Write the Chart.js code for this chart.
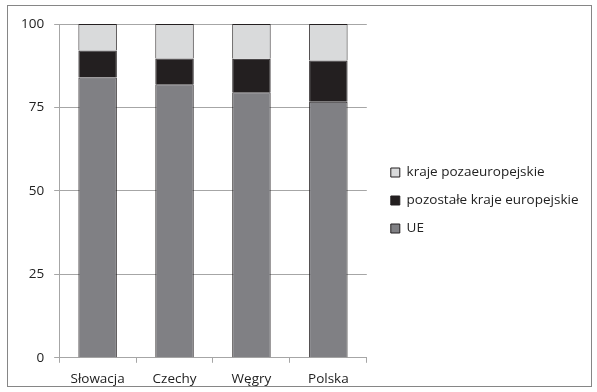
<!DOCTYPE html>
<html>
<head>
<meta charset="utf-8">
<script src="https://cdn.jsdelivr.net/npm/chart.js@4/dist/chart.umd.min.js"></script>
<style>
  html, body { margin: 0; padding: 0; background: #fff; }
  #frame { position: absolute; left: 7px; top: 5px; width: 583px; height: 380px; border: 1px solid #868686; }
  #frame canvas { display: block; }
</style>
</head>
<body>
<div id="frame"><canvas id="chart"></canvas></div>
<script>
// === Data ===
const countries = ['Słowacja', 'Czechy', 'Węgry', 'Polska'];
const ue = [84, 82, 79.6, 76.7];
const otherEurope = [8.1, 7.7, 10, 12.4];
const nonEurope = [7.9, 10.3, 10.4, 10.9];
const yTicks = [0, 25, 50, 75, 100];

const gridGray = '#a6a6a6';
const font = { family: '"Open Sans", sans-serif', size: 13.5 };

// nudge the legend right/up so there is a gap after the plot
const legendShift = {
  id: 'legendShift',
  afterLayout(chart) {
    const lg = chart.legend;
    lg.left += 9.5; lg.right += 9.5;
    lg.top -= 3; lg.bottom -= 3;
  }
};

new Chart(document.getElementById('chart'), {
  type: 'bar',
  data: {
    labels: countries,
    datasets: [
      { label: 'UE', data: ue, backgroundColor: '#808084', borderColor: '#231f20', borderWidth: 1 },
      { label: 'pozostałe kraje europejskie', data: otherEurope, backgroundColor: '#231f20', borderColor: '#231f20', borderWidth: 1 },
      { label: 'kraje pozaeuropejskie', data: nonEurope, backgroundColor: '#d9dadb', borderColor: '#231f20', borderWidth: 1 }
    ]
  },
  options: {
    responsive: true,
    maintainAspectRatio: false,
    animation: false,
    layout: { padding: { left: 3, top: 6, right: 12, bottom: -9 } },
    datasets: { bar: { categoryPercentage: 1, barPercentage: 0.5 } },
    plugins: {
      tooltip: { enabled: false },
      legend: {
        position: 'right',
        reverse: true,
        maxWidth: 260,
        labels: { font, color: '#222', boxWidth: 9, boxHeight: 9, padding: 14.5 }
      }
    },
    scales: {
      x: {
        stacked: true,
        border: { color: gridGray },
        grid: { offset: true, drawOnChartArea: false, color: gridGray, tickLength: 5 },
        ticks: { font, color: '#222', padding: 8 }
      },
      y: {
        stacked: true,
        min: 0,
        max: 100,
        afterBuildTicks: axis => { axis.ticks = yTicks.map(v => ({ value: v })); },
        border: { color: gridGray },
        grid: { color: gridGray, tickLength: 5 },
        ticks: { font, color: '#222', padding: 10 }
      }
    }
  },
  plugins: [legendShift]
});
</script>
</body>
</html>
